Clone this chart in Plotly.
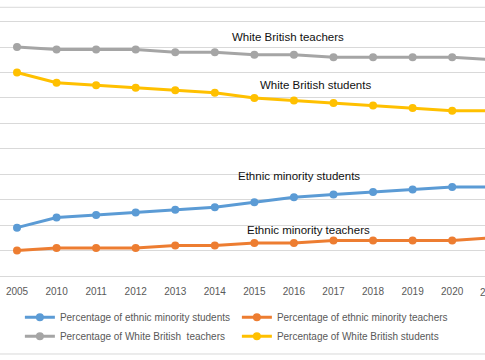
import plotly.graph_objects as go

years = ["2005", "2010", "2011", "2012", "2013", "2014", "2015", "2016", "2017", "2018", "2019", "2020", "2021"]
ethnic_minority_students = [19, 23, 24, 25, 26, 27, 29, 31, 32, 33, 34, 35, 35]
ethnic_minority_teachers = [10, 11, 11, 11, 12, 12, 13, 13, 14, 14, 14, 14, 15]
white_british_teachers = [90, 89, 89, 89, 88, 88, 87, 87, 86, 86, 86, 86, 85]
white_british_students = [80, 76, 75, 74, 73, 72, 70, 69, 68, 67, 66, 65, 65]

series_names = [
    "Percentage of ethnic minority students",
    "Percentage of ethnic minority teachers",
    "Percentage of White British  teachers",
    "Percentage of White British students",
]
series_values = [ethnic_minority_students, ethnic_minority_teachers,
                 white_british_teachers, white_british_students]
colors = ["#5B9BD5", "#ED7D31", "#A5A5A5", "#FFC000"]

label_texts = ["White British teachers", "White British students",
               "Ethnic minority students", "Ethnic minority teachers"]
label_x = [6.86, 7.55, 7.14, 7.37]
label_y = [94.0, 75.2, 39.4, 18.2]

FONT = "Liberation Sans, Arial, sans-serif"
x_range = [-0.43, 11.83]

fig = go.Figure()
for name, vals, col in zip(series_names, series_values, colors):
    fig.add_trace(go.Scatter(
        x=years, y=vals, name=name, mode="lines+markers",
        line=dict(color=col, width=3),
        marker=dict(color=col, size=8),
    ))

for t, x, y in zip(label_texts, label_x, label_y):
    fig.add_annotation(x=x, y=y, xref="x", yref="y", text=t, showarrow=False,
                       font=dict(family=FONT, size=11.5, color="#111111"))

# partially visible last tick label at the right edge (the reference crops it)
last_idx = len(years) - 1
fig.add_annotation(x=(last_idx - x_range[0]) / (x_range[1] - x_range[0]), y=-0.058,
                   xref="paper", yref="paper", xanchor="center", yanchor="middle",
                   text=years[-1], showarrow=False,
                   font=dict(family=FONT, size=10, color="#595959"))

# chart border lines
fig.add_shape(type="line", xref="paper", yref="paper", x0=0, x1=1, y0=0.9736, y1=0.9736,
              line=dict(color="#D9D9D9", width=1))
fig.add_shape(type="line", xref="paper", yref="paper", x0=0, x1=1, y0=-0.2826, y1=-0.2826,
              line=dict(color="#D9D9D9", width=1))

fig.update_layout(
    width=485, height=360,
    margin=dict(l=0, r=0, t=0, b=84, autoexpand=False),
    paper_bgcolor="white", plot_bgcolor="white",
    showlegend=True,
    legend=dict(orientation="h", x=0.041, xanchor="left", xref="paper",
                y=0.159, yanchor="top", yref="container",
                entrywidth=172, entrywidthmode="pixels",
                font=dict(family=FONT, size=10, color="#595959"),
                bgcolor="rgba(0,0,0,0)"),
    xaxis=dict(type="category", range=x_range, showgrid=False, showline=True,
               linecolor="#D9D9D9", linewidth=1, ticks="", ticklabelstandoff=6,
               tickfont=dict(family=FONT, size=10, color="#595959"), zeroline=False),
    yaxis=dict(range=[0, 108.5], dtick=10, showgrid=True, gridcolor="#D9D9D9",
               gridwidth=1, showticklabels=False, zeroline=False, ticks=""),
)

fig.write_html("out.html", config={"displayModeBar": False},
               post_script="document.body.style.margin='0';document.body.style.padding='0';")
